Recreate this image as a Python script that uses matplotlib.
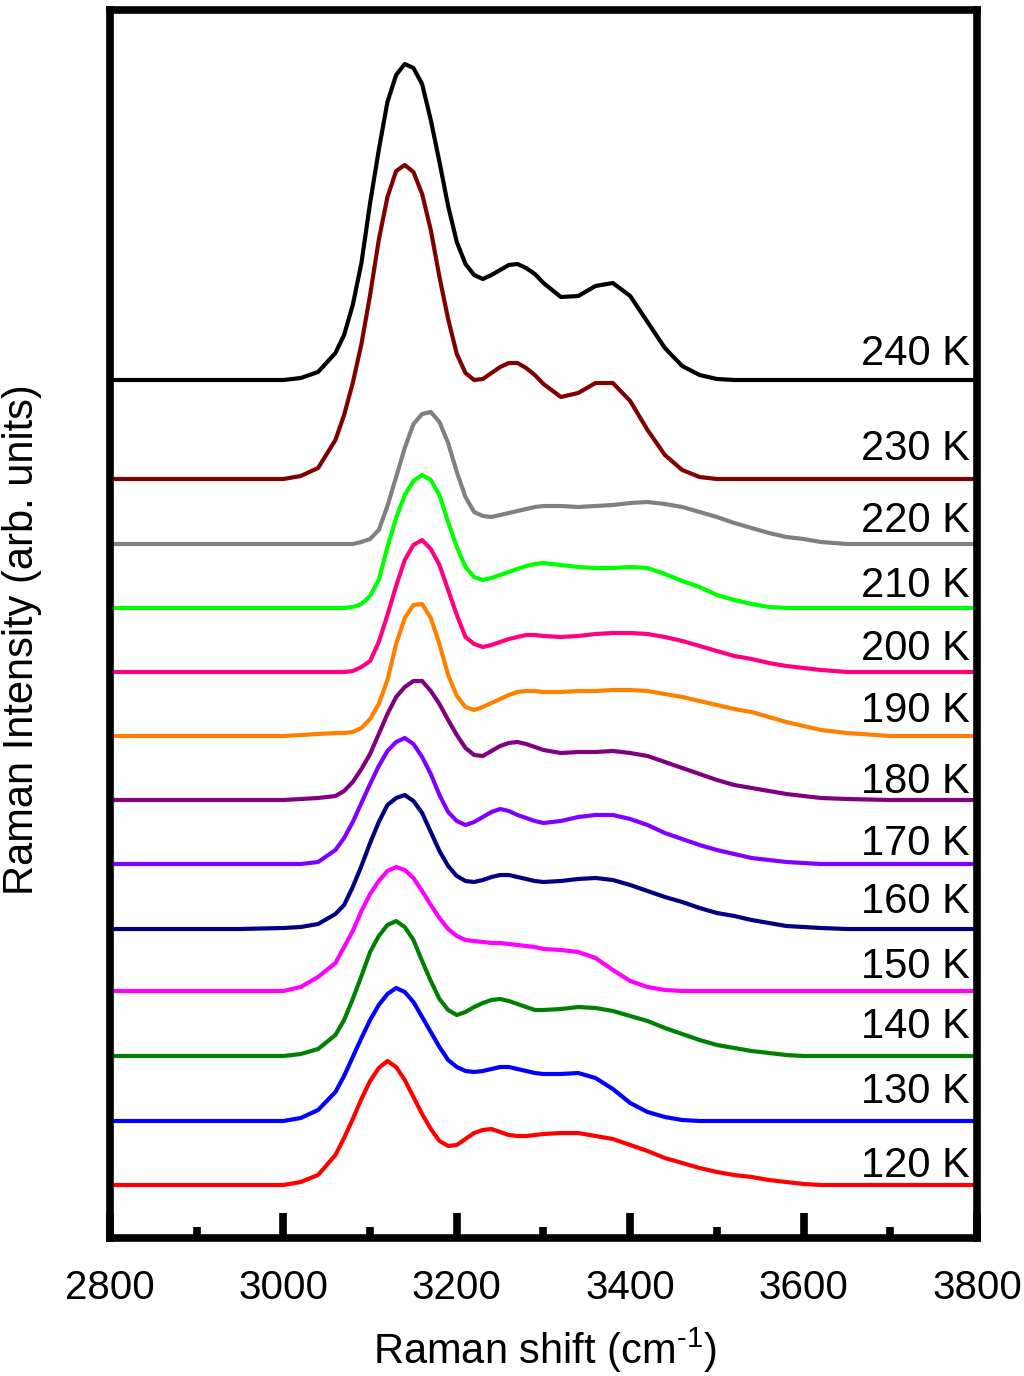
import matplotlib
matplotlib.use('Agg')
import matplotlib.pyplot as plt
import numpy as np

plt.rcParams['font.family'] = ['Liberation Sans', 'DejaVu Sans']
plt.rcParams['mathtext.fontset'] = 'custom'
plt.rcParams['mathtext.rm'] = 'Liberation Sans'
plt.rcParams['mathtext.it'] = 'Liberation Sans:italic'

# Raman shift grid (cm-1), shared by all spectra
shift = [2800, 2950, 3000, 3020, 3040, 3060,
         3070, 3080, 3090, 3100, 3110, 3120, 3130, 3140, 3150, 3160, 3170, 3180,
         3190, 3200, 3210, 3220, 3230, 3240, 3250, 3260, 3270, 3280, 3290, 3300,
         3320, 3340, 3360, 3380, 3400, 3420, 3440, 3460, 3480, 3500, 3520, 3540,
         3560, 3580, 3600, 3620, 3650, 3700, 3800]

temps = ['120 K', '130 K', '140 K', '150 K', '160 K', '170 K', '180 K',
         '190 K', '200 K', '210 K', '220 K', '230 K', '240 K']

# intensities (arb. units) above each baseline
I_120 = [0, 0, 0, 3, 10, 30,
         47, 66, 86, 104, 117, 124, 118, 105, 88, 71, 56, 44, 39, 40, 46, 52, 55, 56, 53, 50, 49, 49, 50, 51,
         52, 52, 49, 46, 40, 34, 27, 22, 17, 13, 10, 8, 5, 3, 1, 0,
         0, 0, 0]
I_130 = [0, 0, 0, 3, 11, 29,
         45, 64, 83, 101, 116, 127, 133, 129, 119, 104, 89, 74, 61, 54, 50, 49, 50, 52, 54, 54, 52, 50, 48, 47,
         47, 48, 43, 32, 18, 9, 4, 1, 0, 0, 0, 0, 0, 0, 0, 0,
         0, 0, 0]
I_140 = [0, 0, 0, 2, 7, 21,
         36, 57, 80, 104, 120, 131, 135, 129, 116, 95, 75, 57, 46, 41, 44, 49, 53, 56, 57, 55, 52, 49, 46, 46,
         47, 49, 48, 45, 40, 35, 28, 22, 16, 11, 8, 5, 3, 1, 0, 0,
         0, 0, 0]
I_150 = [0, 0, 0, 4, 14, 28,
         44, 60, 80, 97, 110, 120, 124, 121, 113, 100, 86, 73, 62, 55, 51, 50, 49, 48, 48, 47, 46, 45, 44, 42,
         41, 39, 33, 21, 10, 4, 1, 0, 0, 0, 0, 0, 0, 0, 0, 0,
         0, 0, 0]
I_160 = [0, 0, 1, 2, 5, 15,
         24, 42, 63, 86, 107, 124, 131, 134, 128, 116, 97, 78, 63, 53, 48, 47, 49, 52, 54, 54, 52, 50, 48, 47,
         48, 50, 51, 49, 44, 38, 32, 27, 21, 16, 13, 9, 6, 3, 2, 1,
         0, 0, 0]
I_170 = [0, 0, 0, 0, 2, 14,
         26, 42, 61, 80, 98, 113, 122, 126, 120, 107, 90, 69, 52, 43, 39, 42, 47, 52, 55, 53, 49, 46, 43, 41,
         43, 47, 49, 49, 45, 39, 31, 25, 19, 14, 10, 6, 4, 2, 1, 0,
         0, 0, 0]
I_180 = [0, 0, 0, 1, 2, 4,
         9, 18, 31, 46, 66, 86, 103, 113, 119, 119, 109, 96, 80, 65, 52, 45, 44, 49, 54, 57, 58, 56, 53, 50,
         47, 48, 48, 49, 47, 44, 38, 32, 26, 20, 15, 12, 9, 6, 4, 2,
         1, 0, 0]
I_190 = [0, 0, 0, 1, 2, 3,
         3, 4, 8, 17, 32, 56, 92, 118, 131, 132, 118, 92, 61, 40, 29, 26, 29, 33, 37, 41, 44, 45, 45, 44,
         44, 45, 45, 46, 46, 45, 42, 39, 35, 31, 27, 24, 19, 14, 10, 6,
         3, 0, 0]
I_200 = [0, 0, 0, 0, 0, 0,
         0, 1, 5, 11, 30, 57, 86, 112, 127, 132, 123, 107, 82, 57, 35, 28, 25, 27, 30, 33, 35, 37, 37, 36,
         35, 36, 38, 39, 39, 38, 35, 31, 26, 21, 16, 13, 9, 6, 4, 2,
         0, 0, 0]
I_210 = [0, 0, 0, 0, 0, 0,
         0, 1, 4, 12, 28, 61, 90, 113, 127, 133, 128, 113, 86, 61, 41, 31, 28, 30, 33, 36, 39, 42, 44, 45,
         43, 41, 40, 40, 41, 40, 34, 27, 21, 13, 8, 4, 1, 0, 0, 0,
         0, 0, 0]
I_220 = [0, 0, 0, 0, 0, 0,
         0, 0, 2, 5, 14, 38, 67, 96, 120, 130, 132, 122, 101, 72, 47, 32, 28, 27, 29, 31, 33, 35, 37, 38,
         38, 37, 38, 39, 41, 42, 40, 37, 32, 27, 21, 16, 11, 7, 5, 2,
         0, 0, 0]
I_230 = [0, 0, 0, 3, 11, 39,
         64, 96, 135, 184, 239, 282, 308, 314, 307, 285, 249, 202, 160, 125, 106, 99, 100, 106, 112, 116, 116, 111, 104, 95,
         82, 86, 96, 96, 78, 49, 24, 9, 2, 0, 0, 0, 0, 0, 0, 0,
         0, 0, 0]
I_240 = [0, 0, 0, 2, 8, 27,
         45, 75, 117, 177, 230, 278, 305, 316, 312, 296, 260, 218, 174, 138, 116, 105, 101, 105, 110, 115, 116, 112, 106, 97,
         83, 84, 94, 97, 84, 58, 32, 14, 5, 1, 0, 0, 0, 0, 0, 0,
         0, 0, 0]

spectra = [I_120, I_130, I_140, I_150, I_160, I_170, I_180,
           I_190, I_200, I_210, I_220, I_230, I_240]
offsets = [50, 114, 179, 244, 306, 371, 435, 499, 563, 627, 691, 756, 855]

colors = ['#ff0000', '#0000ff', '#008000', '#ff00ff', '#000080', '#8000ff', '#800080',
          '#ff8000', '#ff0080', '#00ff00', '#808080', '#800000', '#000000']
label_y = [58, 132, 197, 257, 322, 380, 442, 513, 575, 638, 703, 775, 870]

fig = plt.figure(figsize=(10.24, 13.76), dpi=100)
ax = fig.add_axes([110/1024, 1 - 1238/1376, 867/1024, 1228/1376])

for I, off, c, t, ly in zip(spectra, offsets, colors, temps, label_y):
    ax.plot(shift, np.array(I) + off, color=c, lw=3, solid_joinstyle='round')
    ax.text(3792, ly, t, ha='right', va='baseline', fontsize=30)

ax.set_xlim(2800, 3800)
ax.set_ylim(-3, 1225)
ax.set_xticks(range(2800, 3801, 200))
ax.set_xticks(range(2900, 3800, 200), minor=True)
ax.tick_params(axis='x', which='major', direction='in', length=18, width=5.5,
               labelsize=29, pad=22)
ax.tick_params(axis='x', which='minor', direction='in', length=8, width=5.5)
ax.set_yticks([])
for s in ax.spines.values():
    s.set_linewidth(5.5)

fig.text(545/1024, 1 - 1350/1376, r'Raman shift (cm$^{\text{-1}}$)', ha='center', va='center', fontsize=30)
fig.text(22/1024, 1 - 640/1376, 'Raman Intensity (arb. units)', rotation=90,
         ha='center', va='center', fontsize=30)

fig.savefig('out.png')
